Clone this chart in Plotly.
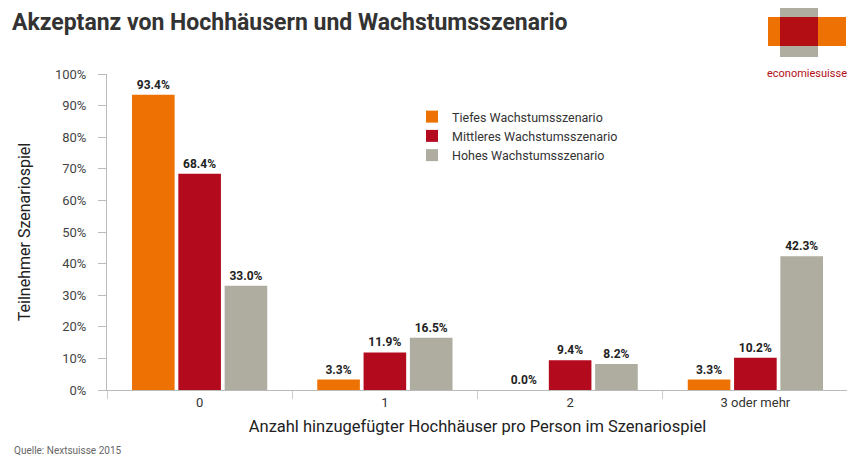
import plotly.graph_objects as go

categories = ["0", "1", "2", "3 oder mehr"]
series_names = ["Tiefes Wachstumsszenario", "Mittleres Wachstumsszenario", "Hohes Wachstumsszenario"]
tiefes = [93.4, 3.3, 0.0, 3.3]
mittleres = [68.4, 11.9, 9.4, 10.2]
hohes = [33.0, 16.5, 8.2, 42.3]
y_ticks = [0, 10, 20, 30, 40, 50, 60, 70, 80, 90, 100]
colors = ["#EE7203", "#B40A1E", "#AEADA0"]

FONT = "Roboto"
fig = go.Figure()
for name, vals, col in zip(series_names, [tiefes, mittleres, hohes], colors):
    fig.add_trace(go.Bar(
        name=name, x=categories, y=vals, marker=dict(color=col, line=dict(width=0)),
        text=[f"{v:.1f}%" for v in vals], textposition="outside", cliponaxis=False,
        textfont=dict(family=FONT, size=12, color="#222222", weight="bold"),
    ))

W, H = 847, 451
fig.update_layout(
    width=W, height=H,
    margin=dict(l=99, r=7, t=66, b=69),
    paper_bgcolor="white", plot_bgcolor="white",
    barmode="group", bargap=0.25, bargroupgap=0.08,
    font=dict(family=FONT, size=13, color="#222222"),
    showlegend=True,
    legend=dict(x=(432 - 107 - 20) / 741, y=(390 - 102) / 316, xanchor="left", yanchor="top",
                font=dict(family=FONT, size=12.5, color="#333333"),
                itemwidth=30, tracegroupgap=0, bgcolor="rgba(0,0,0,0)"),
    title=dict(text="<b>Akzeptanz von Hochhäusern und Wachstumsszenario</b>",
               x=4 / W, xanchor="left", y=1 - 14 / H, yanchor="middle",
               font=dict(family=FONT, size=23, color="#333333")),
    xaxis=dict(showline=True, linecolor="#BBBBBB", linewidth=1,
               ticks="outside", tickson="boundaries", ticklen=8, tickcolor="#CCCCCC",
               tickfont=dict(family=FONT, size=13, color="#333333"),
               title=dict(text="Anzahl hinzugefügter Hochhäuser pro Person im Szenariospiel",
                          font=dict(family=FONT, size=16.5, color="#222222"), standoff=11)),
    yaxis=dict(range=[0, 100], tickvals=y_ticks, ticktext=[f"{t}%" for t in y_ticks],
               showgrid=False, zeroline=False, showline=True, linecolor="#BBBBBB", linewidth=1,
               ticks="outside", ticklen=8, tickcolor="#BBBBBB", ticklabelstandoff=9,
               tickfont=dict(family=FONT, size=13, color="#444444"),
               title=dict(text="Teilnehmer Szenariospiel",
                          font=dict(family=FONT, size=16, color="#222222"), standoff=20)),
)

# Logo
fig.add_shape(type="rect", xref="paper", yref="paper", x0=(780-107)/741, x1=(818-107)/741,
              y0=(390-57)/316, y1=(390-4)/316, fillcolor="#AEADA0", line=dict(width=0), layer="above")
fig.add_shape(type="rect", xref="paper", yref="paper", x0=(768-107)/741, x1=(846-107)/741,
              y0=(390-46)/316, y1=(390-17)/316, fillcolor="#EE7203", line=dict(width=0), layer="above")
fig.add_shape(type="rect", xref="paper", yref="paper", x0=(780-107)/741, x1=(818-107)/741,
              y0=(390-46)/316, y1=(390-17)/316, fillcolor="#B20E14", line=dict(width=0), layer="above")
fig.add_annotation(text="economiesuisse", xref="paper", yref="paper", x=(807-107)/741, y=(390-73)/316,
                   showarrow=False, font=dict(family=FONT, size=11, color="#B20E14"),
                   xanchor="center", yanchor="middle")
fig.add_annotation(text="Quelle: Nextsuisse 2015", xref="paper", yref="paper",
                   x=(12-107)/741, y=-(450-390)/316, showarrow=False, xanchor="left", yanchor="middle",
                   font=dict(family=FONT, size=10, color="#666666"))

fig.write_html("out.html")
